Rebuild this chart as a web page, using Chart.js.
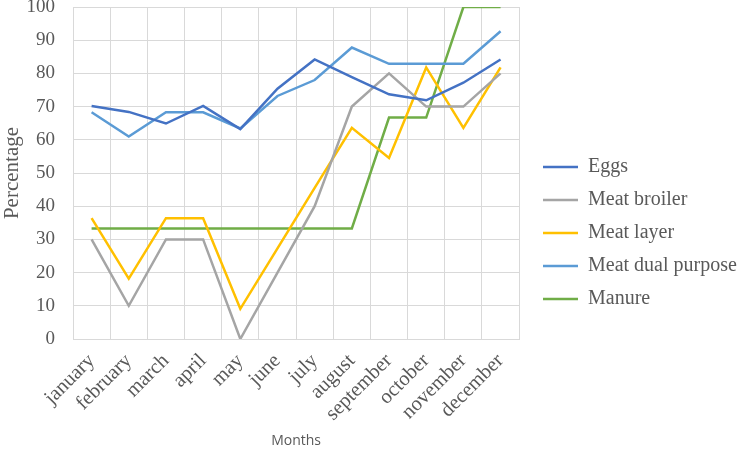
<!DOCTYPE html>
<html>
<head>
<meta charset="utf-8">
<script src="https://cdn.jsdelivr.net/npm/chart.js@4"></script>
<style>
  html, body { margin: 0; padding: 0; background: #fff; }
  #wrap { width: 738px; height: 450px; }
</style>
</head>
<body>
<div id="wrap"><canvas id="chart"></canvas></div>
<script>
// Months on the x axis
const months = ['january', 'february', 'march', 'april', 'may', 'june',
    'july', 'august', 'september', 'october', 'november', 'december'];

// Series values (percentage)
const eggs = [70.2, 68.4, 64.9, 70.2, 63.2, 75.4, 84.2, 78.9, 73.7, 71.9, 77.2, 84.2];
const meatBroiler = [30, 10, 30, 30, 0, 20, 40, 70, 80, 70, 70, 80];
const meatLayer = [36.4, 18.2, 36.4, 36.4, 9.1, 27.3, 45.5, 63.6, 54.5, 81.8, 63.6, 81.8];
const meatDual = [68.3, 61.0, 68.3, 68.3, 63.4, 73.2, 78.0, 87.8, 82.9, 82.9, 82.9, 92.7];
const manure = [33.3, 33.3, 33.3, 33.3, 33.3, 33.3, 33.3, 33.3, 66.7, 66.7, 100, 100];

const seriesNames = ['Eggs', 'Meat broiler', 'Meat layer', 'Meat dual purpose', 'Manure'];
const seriesData = [eggs, meatBroiler, meatLayer, meatDual, manure];
const seriesColors = ['#4472C4', '#A5A5A5', '#FFC000', '#5B9BD5', '#70AD47'];

const serif = "'Liberation Serif', 'DejaVu Serif', serif";
const textGrey = '#595959';

// Move the legend block where the reference has it
const legendPlace = {
    id: 'legendPlace',
    afterLayout(chart) {
        const lg = chart.legend;
        const h = lg.bottom - lg.top;
        lg.top = 144;
        lg.bottom = lg.top + h;
        const w = lg.right - lg.left;
        lg.left = 530;
        lg.right = lg.left + w;
    }
};

const ctx = document.getElementById('chart').getContext('2d');
const chart = new Chart(ctx, {
    type: 'line',
    data: {
        labels: months,
        datasets: seriesNames.map((name, i) => ({
            label: name,
            data: seriesData[i],
            borderColor: seriesColors[i],
            backgroundColor: seriesColors[i],
            borderWidth: 2.5,
            pointRadius: 0,
            tension: 0,
            fill: false
        }))
    },
    options: {
        responsive: true,
        maintainAspectRatio: false,
        animation: false,
        layout: { padding: { top: 7, right: 2, bottom: 0, left: 0 } },
        plugins: {
            tooltip: { enabled: false },
            legend: {
                position: 'right',
                align: 'start',
                maxWidth: 219,
                labels: {
                    boxWidth: 35,
                    boxHeight: 2.5,
                    padding: 13,
                    color: textGrey,
                    font: { family: serif, size: 20 },
                    generateLabels: (c) => Chart.defaults.plugins.legend.labels.generateLabels(c)
                        .map(l => ({ ...l, lineWidth: 0 }))
                }
            }
        },
        scales: {
            x: {
                offset: true,
                grid: { offset: true, color: '#D9D9D9', drawTicks: false },
                border: { color: '#D9D9D9' },
                ticks: {
                    color: textGrey,
                    font: { family: serif, size: 20.5 },
                    autoSkip: false,
                    minRotation: 45,
                    maxRotation: 45,
                    padding: 10
                },
                title: {
                    display: true,
                    text: 'Months',
                    color: textGrey,
                    font: { family: "'Open Sans', 'Liberation Sans', sans-serif", size: 14 },
                    padding: { top: 0, bottom: 1 }
                },
                afterFit: (s) => {
                    s.paddingLeft = 0;
                    s.paddingRight = 0;
                    s.height = 111;
                }
            },
            y: {
                min: 0,
                max: 100,
                grid: { color: '#D9D9D9', drawTicks: false },
                border: { color: '#D9D9D9' },
                ticks: {
                    stepSize: 10,
                    color: textGrey,
                    font: { family: serif, size: 19 },
                    padding: 18
                },
                title: {
                    display: true,
                    text: 'Percentage',
                    color: textGrey,
                    font: { family: serif, size: 21 },
                    padding: { top: 0, bottom: 0 }
                },
                afterFit: (s) => {
                    s.paddingTop = 0;
                    s.paddingBottom = 0;
                    s.width = 73;
                }
            }
        }
    },
    plugins: [legendPlace]
});
</script>
</body>
</html>
